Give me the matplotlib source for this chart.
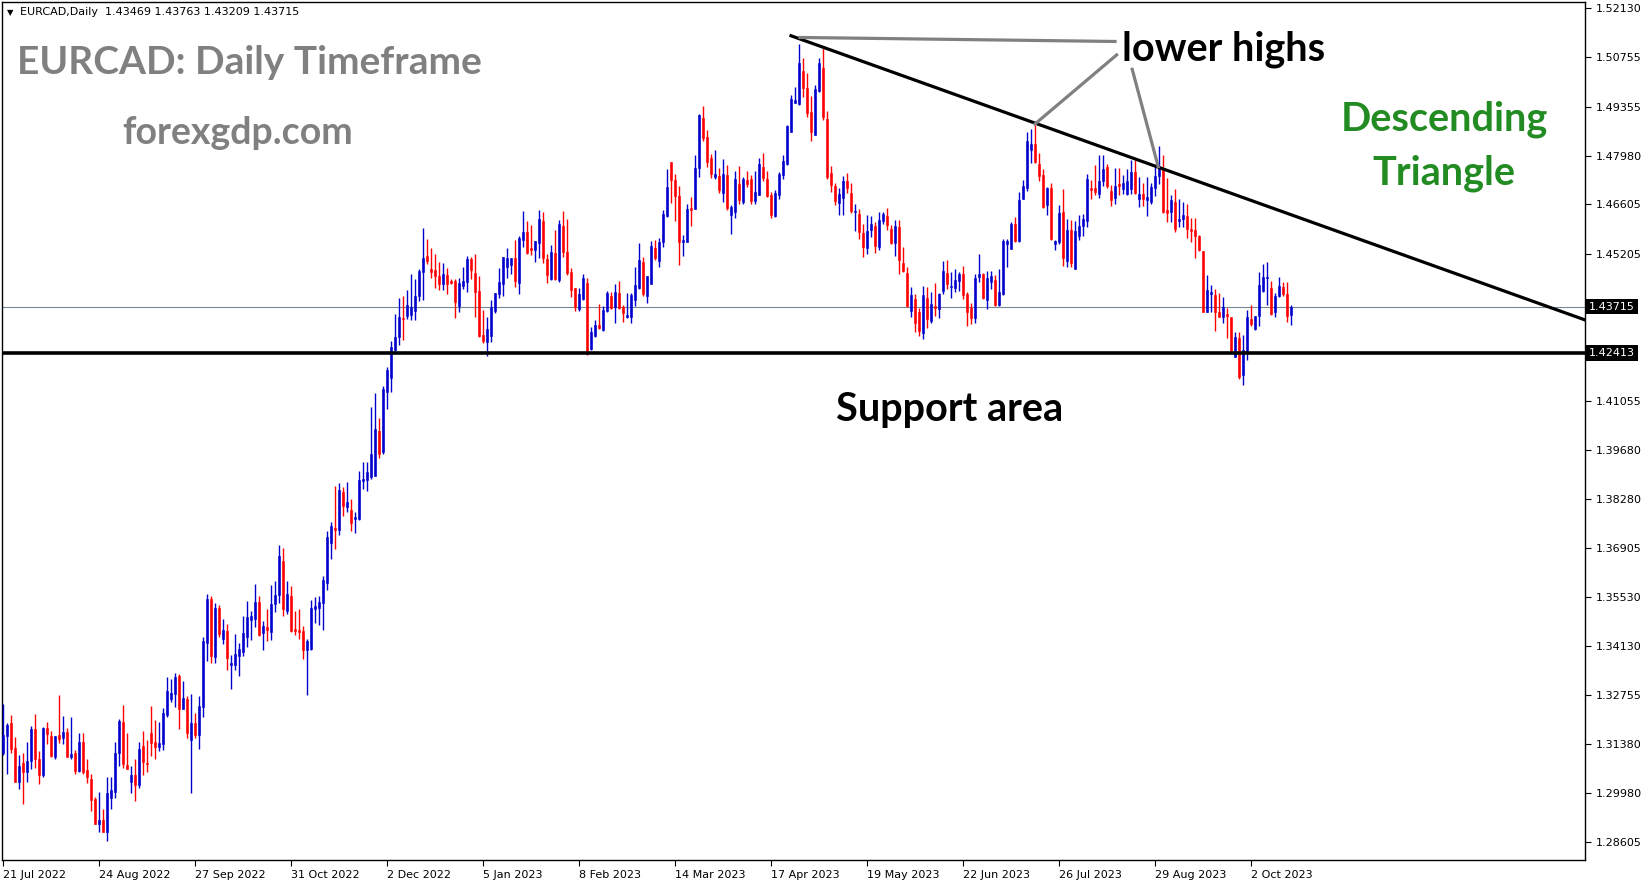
import numpy as np
import matplotlib.pyplot as plt

# EURCAD daily candles, bar 0 = 21 Jul 2022
opens = [
    1.3111, 1.3160, 1.3196, 1.3126, 1.3031, 1.3083, 1.3059, 1.3090, 1.3180, 1.3095,
    1.3051, 1.3182, 1.3160, 1.3099, 1.3163, 1.3155, 1.3171, 1.3101, 1.3111, 1.3062,
    1.3143, 1.3064, 1.3038, 1.2982, 1.2912, 1.2923, 1.2890, 1.2986, 1.3003, 1.3111,
    1.3199, 1.3078, 1.3031, 1.3050, 1.3022, 1.3131, 1.3083, 1.3168, 1.3143, 1.3130,
    1.3138, 1.3219, 1.3264, 1.3277, 1.3329, 1.3237, 1.3264, 1.3149, 1.3196, 1.3163,
    1.3242, 1.3423, 1.3545, 1.3384, 1.3520, 1.3434, 1.3456, 1.3361, 1.3361, 1.3386,
    1.3398, 1.3440, 1.3487, 1.3490, 1.3538, 1.3449, 1.3467, 1.3454, 1.3531, 1.3558,
    1.3654, 1.3513, 1.3555, 1.3461, 1.3459, 1.3456, 1.3401, 1.3406, 1.3518, 1.3521,
    1.3536, 1.3592, 1.3704, 1.3747, 1.3741, 1.3848, 1.3806, 1.3798, 1.3772, 1.3772,
    1.3879, 1.3882, 1.3891, 1.3894, 1.4020, 1.3961, 1.4131, 1.4170, 1.4249, 1.4286,
    1.4340, 1.4345, 1.4348, 1.4360, 1.4402, 1.4470, 1.4514, 1.4478, 1.4475, 1.4458,
    1.4435, 1.4461, 1.4444, 1.4444, 1.4373, 1.4430, 1.4441, 1.4506, 1.4466, 1.4416,
    1.4292, 1.4272, 1.4289, 1.4359, 1.4407, 1.4435, 1.4483, 1.4489, 1.4509, 1.4438,
    1.4560, 1.4582, 1.4537, 1.4531, 1.4551, 1.4613, 1.4506, 1.4450, 1.4523, 1.4447,
    1.4599, 1.4526, 1.4469, 1.4424, 1.4365, 1.4393, 1.4438, 1.4252, 1.4289, 1.4320,
    1.4306, 1.4360, 1.4402, 1.4371, 1.4410, 1.4371, 1.4342, 1.4342, 1.4390, 1.4424,
    1.4498, 1.4402, 1.4435, 1.4537, 1.4500, 1.4554, 1.4627, 1.4780, 1.4729, 1.4684,
    1.4554, 1.4555, 1.4650, 1.4647, 1.4763, 1.4904, 1.4850, 1.4791, 1.4737, 1.4740,
    1.4692, 1.4743, 1.4630, 1.4639, 1.4718, 1.4667, 1.4729, 1.4732, 1.4670, 1.4687,
    1.4766, 1.4732, 1.4687, 1.4627, 1.4687, 1.4743, 1.4774, 1.4864, 1.4946, 1.4943,
    1.5037, 1.4988, 1.4922, 1.4856, 1.4979, 1.5045, 1.4900, 1.4748, 1.4712, 1.4665,
    1.4679, 1.4726, 1.4693, 1.4639, 1.4633, 1.4580, 1.4538, 1.4588, 1.4599, 1.4541,
    1.4613, 1.4627, 1.4591, 1.4552, 1.4596, 1.4496, 1.4467, 1.4360, 1.4394, 1.4355,
    1.4298, 1.4397, 1.4332, 1.4374, 1.4366, 1.4417, 1.4467, 1.4428, 1.4425, 1.4445,
    1.4465, 1.4408, 1.4369, 1.4340, 1.4456, 1.4465, 1.4391, 1.4442, 1.4448, 1.4377,
    1.4408, 1.4548, 1.4533, 1.4605, 1.4556, 1.4675, 1.4707, 1.4814, 1.4831, 1.4774,
    1.4743, 1.4659, 1.4707, 1.4549, 1.4554, 1.4639, 1.4501, 1.4588, 1.4479, 1.4571,
    1.4599, 1.4614, 1.4707, 1.4707, 1.4690, 1.4726, 1.4766, 1.4698, 1.4678, 1.4718,
    1.4704, 1.4690, 1.4704, 1.4752, 1.4676, 1.4690, 1.4673, 1.4667, 1.4706, 1.4740,
    1.4763, 1.4644, 1.4639, 1.4667, 1.4614, 1.4619, 1.4627, 1.4591, 1.4588, 1.4571,
    1.4528, 1.4356, 1.4407, 1.4404, 1.4356, 1.4343, 1.4351, 1.4342, 1.4229, 1.4283,
    1.4178, 1.4243, 1.4337, 1.4308, 1.4345, 1.4416, 1.4453, 1.4424, 1.4356, 1.4401,
    1.4427, 1.4407, 1.43469,
]
highs = [
    1.3250, 1.3196, 1.3219, 1.3157, 1.3106, 1.3112, 1.3143, 1.3188, 1.3222, 1.3117,
    1.3185, 1.3199, 1.3174, 1.3160, 1.3275, 1.3216, 1.3182, 1.3213, 1.3121, 1.3168,
    1.3168, 1.3095, 1.3052, 1.2988, 1.3003, 1.2954, 1.3045, 1.3045, 1.3143, 1.3208,
    1.3247, 1.3168, 1.3075, 1.3095, 1.3143, 1.3174, 1.3148, 1.3244, 1.3205, 1.3200,
    1.3239, 1.3326, 1.3321, 1.3337, 1.3335, 1.3315, 1.3273, 1.3278, 1.3225, 1.3273,
    1.3439, 1.3560, 1.3555, 1.3535, 1.3530, 1.3490, 1.3476, 1.3388, 1.3448, 1.3422,
    1.3498, 1.3541, 1.3512, 1.3589, 1.3555, 1.3484, 1.3518, 1.3586, 1.3597, 1.3699,
    1.3690, 1.3597, 1.3583, 1.3513, 1.3518, 1.3470, 1.3434, 1.3544, 1.3552, 1.3555,
    1.3611, 1.3738, 1.3764, 1.3865, 1.3874, 1.3862, 1.3877, 1.3829, 1.3792, 1.3908,
    1.3933, 1.3933, 1.4088, 1.4128, 1.4057, 1.4148, 1.4201, 1.4275, 1.4351, 1.4395,
    1.4402, 1.4419, 1.4464, 1.4450, 1.4478, 1.4594, 1.4562, 1.4537, 1.4520, 1.4497,
    1.4495, 1.4481, 1.4450, 1.4450, 1.4452, 1.4483, 1.4514, 1.4512, 1.4520, 1.4458,
    1.4362, 1.4342, 1.4390, 1.4410, 1.4481, 1.4512, 1.4537, 1.4509, 1.4560, 1.4571,
    1.4641, 1.4613, 1.4602, 1.4557, 1.4644, 1.4639, 1.4520, 1.4546, 1.4588, 1.4616,
    1.4641, 1.4619, 1.4481, 1.4424, 1.4424, 1.4464, 1.4452, 1.4314, 1.4334, 1.4379,
    1.4373, 1.4416, 1.4413, 1.4435, 1.4444, 1.4376, 1.4410, 1.4410, 1.4483, 1.4551,
    1.4512, 1.4458, 1.4557, 1.4560, 1.4565, 1.4644, 1.4760, 1.4780, 1.4746, 1.4712,
    1.4574, 1.4661, 1.4681, 1.4799, 1.4915, 1.4938, 1.4870, 1.4802, 1.4814, 1.4763,
    1.4788, 1.4771, 1.4658, 1.4754, 1.4768, 1.4737, 1.4754, 1.4743, 1.4754, 1.4791,
    1.4805, 1.4754, 1.4695, 1.4701, 1.4752, 1.4800, 1.4884, 1.4969, 1.4991, 1.5113,
    1.5074, 1.5030, 1.4966, 1.4997, 1.5074, 1.5101, 1.4925, 1.4768, 1.4720, 1.4707,
    1.4740, 1.4749, 1.4721, 1.4662, 1.4648, 1.4606, 1.4629, 1.4627, 1.4610, 1.4638,
    1.4638, 1.4649, 1.4603, 1.4615, 1.4615, 1.4540, 1.4484, 1.4428, 1.4408, 1.4369,
    1.4431, 1.4426, 1.4414, 1.4439, 1.4411, 1.4501, 1.4504, 1.4470, 1.4479, 1.4470,
    1.4487, 1.4414, 1.4383, 1.4465, 1.4521, 1.4467, 1.4473, 1.4473, 1.4462, 1.4479,
    1.4563, 1.4562, 1.4611, 1.4624, 1.4695, 1.4729, 1.4864, 1.4872, 1.4883, 1.4804,
    1.4760, 1.4710, 1.4720, 1.4560, 1.4658, 1.4704, 1.4619, 1.4616, 1.4613, 1.4630,
    1.4633, 1.4746, 1.4729, 1.4771, 1.4800, 1.4800, 1.4774, 1.4715, 1.4763, 1.4763,
    1.4743, 1.4760, 1.4786, 1.4786, 1.4738, 1.4721, 1.4737, 1.4721, 1.4771, 1.4825,
    1.4800, 1.4735, 1.4687, 1.4704, 1.4675, 1.4667, 1.4661, 1.4622, 1.4622, 1.4574,
    1.4528, 1.4461, 1.4433, 1.4421, 1.4410, 1.4399, 1.4368, 1.4342, 1.4300, 1.4300,
    1.4291, 1.4362, 1.4376, 1.4345, 1.4469, 1.4492, 1.4497, 1.4444, 1.4410, 1.4455,
    1.4441, 1.4441, 1.43763,
]
lows = [
    1.3106, 1.3052, 1.3113, 1.3031, 1.3011, 1.2969, 1.3031, 1.3067, 1.3070, 1.3025,
    1.3045, 1.3138, 1.3099, 1.3096, 1.3141, 1.3138, 1.3099, 1.3096, 1.3053, 1.3059,
    1.3053, 1.3028, 1.2949, 1.2911, 1.2890, 1.2890, 1.2864, 1.2955, 1.2984, 1.3076,
    1.3070, 1.3067, 1.2999, 1.2977, 1.3014, 1.3051, 1.3059, 1.3104, 1.3096, 1.3116,
    1.3121, 1.3214, 1.3256, 1.3242, 1.3180, 1.3236, 1.3153, 1.2999, 1.3154, 1.3124,
    1.3213, 1.3370, 1.3367, 1.3367, 1.3440, 1.3420, 1.3347, 1.3293, 1.3347, 1.3330,
    1.3386, 1.3412, 1.3431, 1.3468, 1.3443, 1.3403, 1.3429, 1.3431, 1.3510, 1.3536,
    1.3499, 1.3504, 1.3453, 1.3445, 1.3434, 1.3378, 1.3274, 1.3403, 1.3479, 1.3473,
    1.3459, 1.3572, 1.3659, 1.3688, 1.3727, 1.3781, 1.3792, 1.3738, 1.3733, 1.3769,
    1.3857, 1.3851, 1.3885, 1.3894, 1.3944, 1.3956, 1.4083, 1.4131, 1.4246, 1.4263,
    1.4278, 1.4337, 1.4334, 1.4334, 1.4387, 1.4391, 1.4492, 1.4452, 1.4424, 1.4419,
    1.4419, 1.4407, 1.4435, 1.4340, 1.4356, 1.4421, 1.4413, 1.4450, 1.4342, 1.4286,
    1.4269, 1.4233, 1.4272, 1.4354, 1.4396, 1.4402, 1.4452, 1.4464, 1.4427, 1.4407,
    1.4540, 1.4520, 1.4517, 1.4498, 1.4509, 1.4495, 1.4438, 1.4447, 1.4447, 1.4441,
    1.4512, 1.4461, 1.4399, 1.4359, 1.4359, 1.4390, 1.4235, 1.4249, 1.4287, 1.4307,
    1.4303, 1.4356, 1.4365, 1.4326, 1.4365, 1.4328, 1.4339, 1.4326, 1.4373, 1.4421,
    1.4402, 1.4382, 1.4435, 1.4503, 1.4483, 1.4540, 1.4624, 1.4664, 1.4613, 1.4489,
    1.4514, 1.4554, 1.4599, 1.4647, 1.4737, 1.4839, 1.4766, 1.4735, 1.4732, 1.4692,
    1.4667, 1.4644, 1.4577, 1.4622, 1.4661, 1.4661, 1.4709, 1.4661, 1.4661, 1.4687,
    1.4726, 1.4681, 1.4622, 1.4624, 1.4675, 1.4732, 1.4771, 1.4864, 1.4946, 1.4940,
    1.4964, 1.4908, 1.4840, 1.4856, 1.4977, 1.4898, 1.4731, 1.4696, 1.4657, 1.4631,
    1.4631, 1.4693, 1.4637, 1.4586, 1.4561, 1.4513, 1.4521, 1.4568, 1.4524, 1.4532,
    1.4605, 1.4589, 1.4549, 1.4515, 1.4465, 1.4468, 1.4371, 1.4343, 1.4301, 1.4290,
    1.4281, 1.4312, 1.4326, 1.4346, 1.4340, 1.4408, 1.4422, 1.4397, 1.4414, 1.4417,
    1.4394, 1.4318, 1.4323, 1.4326, 1.4442, 1.4394, 1.4366, 1.4422, 1.4374, 1.4374,
    1.4405, 1.4483, 1.4533, 1.4555, 1.4554, 1.4675, 1.4699, 1.4776, 1.4776, 1.4726,
    1.4650, 1.4631, 1.4560, 1.4530, 1.4549, 1.4487, 1.4484, 1.4482, 1.4479, 1.4560,
    1.4571, 1.4597, 1.4676, 1.4687, 1.4678, 1.4712, 1.4707, 1.4656, 1.4661, 1.4687,
    1.4690, 1.4687, 1.4690, 1.4690, 1.4653, 1.4656, 1.4627, 1.4661, 1.4684, 1.4718,
    1.4636, 1.4610, 1.4610, 1.4582, 1.4596, 1.4596, 1.4565, 1.4554, 1.4509, 1.4528,
    1.4356, 1.4356, 1.4356, 1.4303, 1.4343, 1.4325, 1.4283, 1.4243, 1.4229, 1.4167,
    1.4150, 1.4221, 1.4317, 1.4305, 1.4317, 1.4413, 1.4376, 1.4348, 1.4342, 1.4399,
    1.4402, 1.4328, 1.43209,
]
closes = [
    1.3163, 1.3191, 1.3124, 1.3031, 1.3075, 1.3059, 1.3089, 1.3180, 1.3096, 1.3051,
    1.3182, 1.3166, 1.3104, 1.3160, 1.3152, 1.3171, 1.3101, 1.3109, 1.3062, 1.3143,
    1.3059, 1.3045, 1.2980, 1.2912, 1.2923, 1.2890, 1.2999, 1.3006, 1.3111, 1.3202,
    1.3082, 1.3067, 1.3050, 1.3020, 1.3123, 1.3087, 1.3082, 1.3141, 1.3130, 1.3140,
    1.3225, 1.3287, 1.3281, 1.3326, 1.3237, 1.3267, 1.3168, 1.3196, 1.3163, 1.3244,
    1.3428, 1.3545, 1.3386, 1.3520, 1.3448, 1.3459, 1.3381, 1.3367, 1.3391, 1.3405,
    1.3450, 1.3496, 1.3498, 1.3538, 1.3446, 1.3470, 1.3459, 1.3532, 1.3558, 1.3668,
    1.3518, 1.3561, 1.3456, 1.3456, 1.3453, 1.3401, 1.3428, 1.3521, 1.3527, 1.3538,
    1.3600, 1.3721, 1.3752, 1.3741, 1.3854, 1.3809, 1.3820, 1.3761, 1.3778, 1.3882,
    1.3885, 1.3905, 1.3956, 1.4026, 1.3956, 1.4139, 1.4193, 1.4258, 1.4286, 1.4342,
    1.4338, 1.4376, 1.4371, 1.4402, 1.4472, 1.4509, 1.4500, 1.4469, 1.4458, 1.4435,
    1.4464, 1.4435, 1.4439, 1.4385, 1.4438, 1.4444, 1.4506, 1.4475, 1.4413, 1.4289,
    1.4275, 1.4308, 1.4371, 1.4410, 1.4441, 1.4512, 1.4509, 1.4509, 1.4444, 1.4565,
    1.4582, 1.4523, 1.4531, 1.4557, 1.4619, 1.4509, 1.4461, 1.4526, 1.4450, 1.4605,
    1.4526, 1.4467, 1.4419, 1.4371, 1.4407, 1.4452, 1.4240, 1.4300, 1.4320, 1.4311,
    1.4362, 1.4410, 1.4368, 1.4413, 1.4368, 1.4354, 1.4348, 1.4404, 1.4433, 1.4503,
    1.4407, 1.4458, 1.4543, 1.4509, 1.4554, 1.4633, 1.4709, 1.4729, 1.4684, 1.4554,
    1.4560, 1.4647, 1.4644, 1.4763, 1.4912, 1.4848, 1.4780, 1.4746, 1.4746, 1.4701,
    1.4746, 1.4650, 1.4653, 1.4732, 1.4673, 1.4732, 1.4718, 1.4670, 1.4695, 1.4774,
    1.4735, 1.4684, 1.4630, 1.4692, 1.4746, 1.4783, 1.4881, 1.4958, 1.4955, 1.5058,
    1.4989, 1.4917, 1.4865, 1.4986, 1.5060, 1.4906, 1.4736, 1.4716, 1.4671, 1.4688,
    1.4726, 1.4707, 1.4641, 1.4641, 1.4583, 1.4541, 1.4586, 1.4605, 1.4544, 1.4617,
    1.4633, 1.4603, 1.4552, 1.4599, 1.4504, 1.4473, 1.4374, 1.4405, 1.4326, 1.4304,
    1.4403, 1.4338, 1.4380, 1.4369, 1.4408, 1.4473, 1.4436, 1.4431, 1.4448, 1.4465,
    1.4403, 1.4357, 1.4340, 1.4453, 1.4465, 1.4397, 1.4451, 1.4459, 1.4377, 1.4414,
    1.4556, 1.4556, 1.4605, 1.4556, 1.4673, 1.4712, 1.4839, 1.4831, 1.4779, 1.4740,
    1.4653, 1.4707, 1.4562, 1.4557, 1.4636, 1.4509, 1.4588, 1.4496, 1.4585, 1.4599,
    1.4619, 1.4732, 1.4701, 1.4695, 1.4726, 1.4760, 1.4712, 1.4673, 1.4712, 1.4712,
    1.4721, 1.4726, 1.4752, 1.4692, 1.4690, 1.4676, 1.4681, 1.4709, 1.4740, 1.4763,
    1.4639, 1.4637, 1.4673, 1.4591, 1.4619, 1.4630, 1.4591, 1.4585, 1.4571, 1.4531,
    1.4356, 1.4418, 1.4413, 1.4356, 1.4343, 1.4370, 1.4346, 1.4243, 1.4286, 1.4173,
    1.4249, 1.4342, 1.4322, 1.4345, 1.4433, 1.4455, 1.4455, 1.4351, 1.4401, 1.4430,
    1.4407, 1.4345, 1.43715,
]

date_labels = ['21 Jul 2022', '24 Aug 2022', '27 Sep 2022', '31 Oct 2022',
               '2 Dec 2022', '5 Jan 2023', '8 Feb 2023', '14 Mar 2023',
               '17 Apr 2023', '19 May 2023', '22 Jun 2023', '26 Jul 2023',
               '29 Aug 2023', '2 Oct 2023']
bars_per_label = 24

price_ticks = [1.52130, 1.50755, 1.49355, 1.47980, 1.46605, 1.45205,
               1.41055, 1.39680, 1.38280, 1.36905, 1.35530, 1.34130,
               1.32755, 1.31380, 1.29980, 1.28605]
last_price = 1.43715
support_level = 1.42413

# drawn annotations (bar index, price)
trend_x = [197.0, 395.5]
trend_y = [1.5136, 1.4334]
pointer_x = [[199.25, 278.0], [278.4, 258.0], [282.3, 288.8]]
pointer_y = [[1.51312, 1.51199], [1.50818, 1.48870], [1.50414, 1.47665]]

assert len(opens) == len(highs) == len(lows) == len(closes)

W, H = 1649, 884
fig = plt.figure(figsize=(W / 100, H / 100), dpi=100)
fig.patch.set_facecolor('white')
ax = fig.add_axes([2 / W, 1 - 860 / H, 1583 / W, 858 / H])

o = np.array(opens)
h = np.array(highs)
l = np.array(lows)
c = np.array(closes)
x = np.arange(len(c))
cols = np.where(c >= o, '#0000CD', '#FF0000')

ax.vlines(x, l, h, colors=cols, linewidth=1.0, zorder=3)
ax.bar(x, np.maximum(np.abs(c - o), 0.00006), bottom=np.minimum(o, c),
       width=0.6, color=cols, edgecolor=cols, linewidth=0.4, zorder=3)

ax.axhline(last_price, color='#778899', lw=0.8, zorder=2)
ax.axhline(support_level, color='black', lw=2.6, zorder=4)
ax.plot(trend_x, trend_y, color='black', lw=2.3, zorder=5)
for px, py in zip(pointer_x, pointer_y):
    ax.plot(px, py, color='#808080', lw=2.3, zorder=5)

ax.set_xlim(-0.25, 395.5)
ax.set_ylim(1.28097, 1.52313)

ax.yaxis.tick_right()
ax.set_yticks(price_ticks)
ax.set_yticklabels([f'{p:.5f}' for p in price_ticks])
ax.set_xticks(np.arange(len(date_labels)) * bars_per_label)
ax.set_xticklabels(date_labels, ha='left')
ax.tick_params(axis='both', direction='out', length=4, width=0.8,
               labelsize=8, colors='black')
ax.tick_params(axis='y', pad=4)
ax.tick_params(axis='x', pad=3)
for s in ax.spines.values():
    s.set_linewidth(1.0)
    s.set_color('black')

# highlighted price labels on the right scale
for p in [last_price, support_level]:
    ax.text(1 + 4 / 1583, p, f'{p:.5f}', transform=ax.get_yaxis_transform(),
            ha='left', va='center', fontsize=8, color='white', clip_on=False,
            bbox=dict(facecolor='black', edgecolor='none', pad=2.0), zorder=6)

# header line
fig.text(7 / W, 1 - 13 / H, '▼', fontsize=6, va='center', ha='left')
fig.text(20 / W, 1 - 12 / H,
         f'EURCAD,Daily  {opens[-1]:.5f} {highs[-1]:.5f} {lows[-1]:.5f} {closes[-1]:.5f}',
         fontsize=8, va='center', ha='left')

big = dict(family='Lato', fontweight='bold', fontsize=28.5, va='baseline')
fig.text(17 / W, 1 - 74 / H, 'EURCAD: Daily Timeframe', color='#808080', ha='left',
         **dict(big, fontsize=28))
fig.text(122 / W, 1 - 144 / H, 'forexgdp.com', color='#808080', ha='left',
         **dict(big, fontsize=27))
fig.text(1122 / W, 1 - 61 / H, 'lower highs', color='black', ha='left', **big)
fig.text(1444 / W, 1 - 131 / H, 'Descending', color='#228B22', ha='center', **big)
fig.text(1444 / W, 1 - 184 / H, 'Triangle', color='#228B22', ha='center', **big)
fig.text(836 / W, 1 - 421 / H, 'Support area', color='black', ha='left', **big)

fig.savefig('out.png', dpi=100)
